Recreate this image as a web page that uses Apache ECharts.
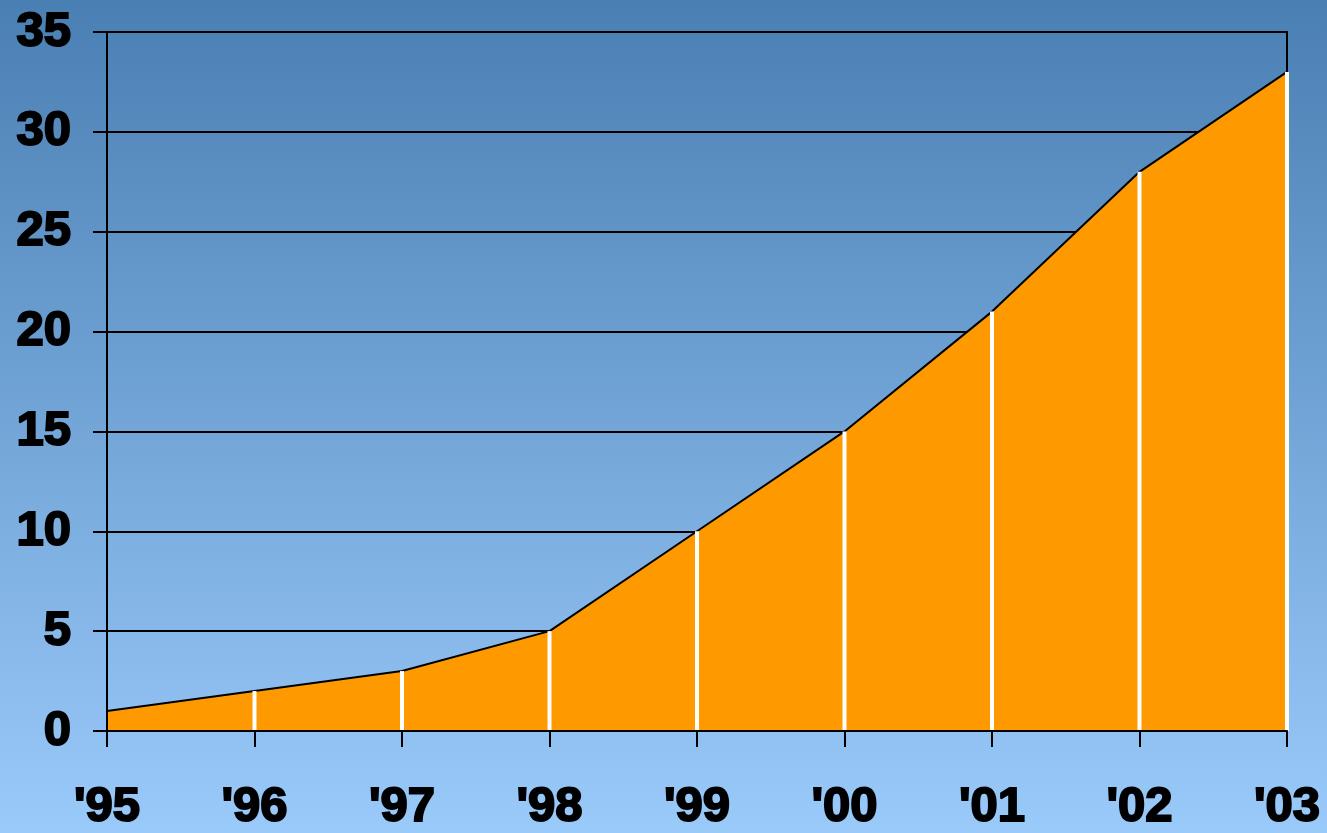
<!DOCTYPE html>
<html>
<head>
<meta charset="utf-8">
<script src="https://cdn.jsdelivr.net/npm/echarts@6/dist/echarts.min.js"></script>
<style>
  html, body { margin: 0; padding: 0; }
  #chart { width: 1327px; height: 833px; }
</style>
</head>
<body>
<div id="chart"></div>
<script>
const years = ["'95", "'96", "'97", "'98", "'99", "'00", "'01", "'02", "'03"]
const values = [1, 2, 3, 5, 10, 15, 21, 28, 33]

// white drop lines at each year, none at the first (sits on the axis)
const dropLines = values.map((v, i) => i === 0 ? null : v)

const labelFont = {
    color: '#000',
    fontFamily: 'Liberation Sans',
    fontWeight: 'bold',
    fontSize: 49,
    textBorderColor: '#000',
    textBorderWidth: 2
}

let chart = echarts.init(document.getElementById('chart'))
chart.setOption({
    animation: false,
    backgroundColor: {
        type: 'linear', x: 0, y: 0, x2: 0, y2: 1,
        colorStops: [
            { offset: 0, color: '#4a7fb3' },
            { offset: 1, color: '#9acafa' }
        ]
    },
    grid: {
        left: 107,
        right: 40,
        top: 32,
        bottom: 102,
        show: true,
        borderColor: '#000',
        borderWidth: 2
    },
    xAxis: {
        type: 'category',
        data: years,
        boundaryGap: false,
        z: 5,
        axisLine: { lineStyle: { color: '#000', width: 2 } },
        axisTick: { show: true, length: 16, lineStyle: { color: '#000', width: 2 } },
        axisLabel: Object.assign({ margin: 52, interval: 0 }, labelFont),
        splitLine: { show: false }
    },
    yAxis: [{
        type: 'value',
        min: 0,
        max: 35,
        interval: 5,
        axisLine: { show: true, lineStyle: { color: '#000', width: 2 } },
        axisTick: { show: true, length: 14, lineStyle: { color: '#000', width: 2 } },
        axisLabel: Object.assign({ margin: 36 }, labelFont),
        splitLine: { lineStyle: { color: '#000', width: 2 } }
    }, {
        type: 'value',
        position: 'left',
        min: 0,
        max: 35,
        z: 5,
        axisLine: { show: true, lineStyle: { color: '#000', width: 2 } },
        axisTick: { show: false },
        axisLabel: { show: false },
        splitLine: { show: false }
    }],
    series: [{
        type: 'line',
        data: values,
        z: 2,
        showSymbol: false,
        lineStyle: { color: '#000', width: 2 },
        areaStyle: { color: '#ff9900', opacity: 1 }
    }, {
        type: 'bar',
        data: dropLines,
        z: 4,
        barWidth: 4,
        clip: false,
        itemStyle: { color: '#ffffff' }
    }]
})
</script>
</body>
</html>
